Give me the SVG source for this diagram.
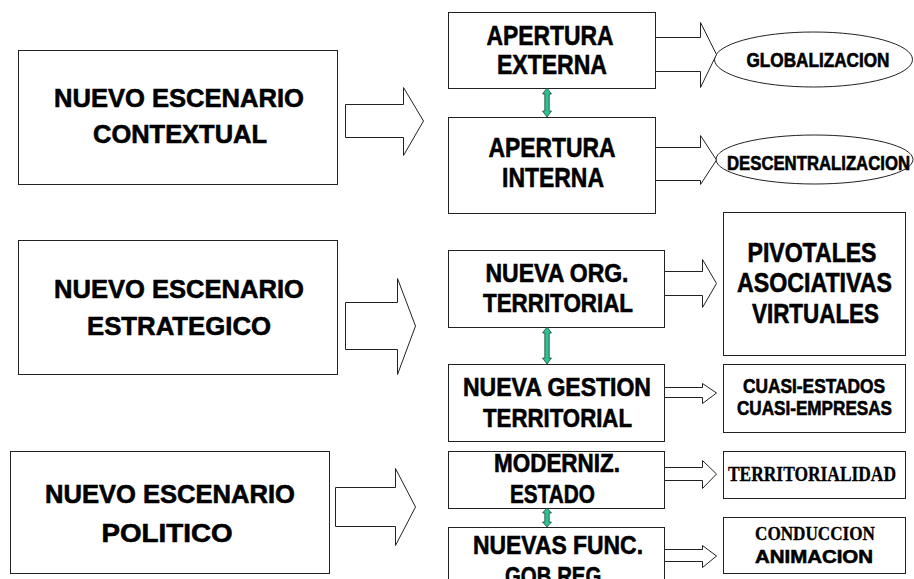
<svg xmlns="http://www.w3.org/2000/svg" width="914" height="579" viewBox="0 0 914 579">
<style>
.box{fill:#fff;stroke:#222;stroke-width:1}
.blk{fill:#fff;stroke:#222;stroke-width:1;stroke-linejoin:miter}
.dbl{fill:#2ec28f;stroke:#1a4a3a;stroke-width:0.8}
text{font-family:"Liberation Sans",Arial,sans-serif;font-weight:bold;fill:#000;stroke:#000;stroke-width:0.6;text-anchor:middle}
.serif{font-family:"Liberation Serif","Times New Roman",serif;stroke-width:0.3}
</style>
<rect width="914" height="579" fill="#fff"/>

<g id="contextual">
<rect class="box" x="18.5" y="50.5" width="319" height="134"/>
<text x="179" y="107" font-size="26.5" textLength="250" lengthAdjust="spacingAndGlyphs">NUEVO ESCENARIO</text>
<text x="180" y="143" font-size="26.5" textLength="174" lengthAdjust="spacingAndGlyphs">CONTEXTUAL</text>
</g>
<g id="estrategico">
<rect class="box" x="18.5" y="240.5" width="319" height="134"/>
<text x="179" y="298" font-size="26.5" textLength="250" lengthAdjust="spacingAndGlyphs">NUEVO ESCENARIO</text>
<text x="179" y="335" font-size="26.5" textLength="184" lengthAdjust="spacingAndGlyphs">ESTRATEGICO</text>
</g>
<g id="politico">
<rect class="box" x="10.5" y="451.5" width="319" height="122"/>
<text x="170" y="503" font-size="26.5" textLength="250" lengthAdjust="spacingAndGlyphs">NUEVO ESCENARIO</text>
<text x="167" y="542" font-size="26.5" textLength="131" lengthAdjust="spacingAndGlyphs">POLITICO</text>
</g>

<g id="apertura-externa">
<rect class="box" x="448.5" y="12.5" width="207" height="76"/>
<text x="550" y="45" font-size="28" textLength="127" lengthAdjust="spacingAndGlyphs">APERTURA</text>
<text x="552" y="74" font-size="28" textLength="110" lengthAdjust="spacingAndGlyphs">EXTERNA</text>
</g>
<g id="apertura-interna">
<rect class="box" x="448.5" y="117.5" width="207" height="96"/>
<text x="552" y="157" font-size="28" textLength="127" lengthAdjust="spacingAndGlyphs">APERTURA</text>
<text x="553" y="187" font-size="28" textLength="102" lengthAdjust="spacingAndGlyphs">INTERNA</text>
</g>
<g id="globalizacion">
<ellipse class="box" cx="813.5" cy="59.5" rx="99" ry="27.5"/>
<text x="818" y="67" font-size="19.5" textLength="143" lengthAdjust="spacingAndGlyphs">GLOBALIZACION</text>
</g>
<g id="descentralizacion">
<ellipse class="box" cx="814.5" cy="159.5" rx="98.5" ry="24.5"/>
<text x="818.5" y="170" font-size="19.5" textLength="183" lengthAdjust="spacingAndGlyphs">DESCENTRALIZACION</text>
</g>

<g id="nueva-org">
<rect class="box" x="448.5" y="250.5" width="216" height="77"/>
<text x="557" y="282" font-size="26.5" textLength="143" lengthAdjust="spacingAndGlyphs">NUEVA ORG.</text>
<text x="558" y="312" font-size="26.5" textLength="150" lengthAdjust="spacingAndGlyphs">TERRITORIAL</text>
</g>
<g id="nueva-gestion">
<rect class="box" x="448.5" y="364.5" width="216" height="77"/>
<text x="557" y="396" font-size="26" textLength="188" lengthAdjust="spacingAndGlyphs">NUEVA GESTION</text>
<text x="557.5" y="427" font-size="26" textLength="149" lengthAdjust="spacingAndGlyphs">TERRITORIAL</text>
</g>
<g id="pivotales">
<rect class="box" x="723.5" y="212.5" width="182" height="143"/>
<text x="812" y="262" font-size="27" textLength="129" lengthAdjust="spacingAndGlyphs">PIVOTALES</text>
<text x="814.5" y="292" font-size="27" textLength="155" lengthAdjust="spacingAndGlyphs">ASOCIATIVAS</text>
<text x="815.5" y="323" font-size="27" textLength="127" lengthAdjust="spacingAndGlyphs">VIRTUALES</text>
</g>
<g id="cuasi">
<rect class="box" x="723.5" y="364.5" width="182" height="68"/>
<text x="814" y="393" font-size="20" textLength="142" lengthAdjust="spacingAndGlyphs">CUASI-ESTADOS</text>
<text x="814.5" y="415" font-size="20" textLength="155" lengthAdjust="spacingAndGlyphs">CUASI-EMPRESAS</text>
</g>

<g id="moderniz">
<rect class="box" x="448.5" y="451.5" width="216" height="57"/>
<text x="557" y="472" font-size="26.5" textLength="126" lengthAdjust="spacingAndGlyphs">MODERNIZ.</text>
<text x="552.5" y="503" font-size="26.5" textLength="85" lengthAdjust="spacingAndGlyphs">ESTADO</text>
</g>
<g id="nuevas-func">
<rect class="box" x="448.5" y="527.5" width="216" height="60"/>
<text x="558" y="554" font-size="26.5" textLength="170" lengthAdjust="spacingAndGlyphs">NUEVAS FUNC.</text>
<text x="556" y="585" font-size="26.5" textLength="102" lengthAdjust="spacingAndGlyphs">GOB.REG.</text>
</g>
<g id="territorialidad">
<rect class="box" x="723.5" y="451.5" width="182" height="47"/>
<text class="serif" x="812" y="481" font-size="21" textLength="168" lengthAdjust="spacingAndGlyphs">TERRITORIALIDAD</text>
</g>
<g id="conduccion">
<rect class="box" x="723.5" y="517.5" width="182" height="56"/>
<text class="serif" x="815" y="540" font-size="19" textLength="120" lengthAdjust="spacingAndGlyphs">CONDUCCION</text>
<text x="814" y="563" font-size="19" textLength="118" lengthAdjust="spacingAndGlyphs">ANIMACION</text>
</g>

<g id="connectors">
<polygon class="blk" points="345.5,104.5 403.5,104.5 403.5,87.5 423.5,121 403.5,155.5 403.5,137.5 345.5,137.5"/>
<polygon class="blk" points="345.5,302.5 397.5,302.5 397.5,278.5 415.5,326 397.5,374.5 397.5,349.5 345.5,349.5"/>
<polygon class="blk" points="335.5,487.5 395.5,487.5 395.5,468.5 415.5,507 395.5,545.5 395.5,526.5 335.5,526.5"/>
<polygon class="blk" points="655.5,37.5 700.5,37.5 700.5,22.5 716.5,54.5 700.5,87.5 700.5,71.5 655.5,71.5"/>
<polygon class="blk" points="655.5,147.5 700.5,147.5 700.5,135.5 716.5,160 700.5,184.5 700.5,180.5 655.5,180.5"/>
<polygon class="blk" points="664.5,271.5 702.5,271.5 702.5,259.5 716.5,283.5 702.5,307.5 702.5,295.5 664.5,295.5"/>
<polygon class="blk" points="664.5,387.5 702.5,387.5 702.5,383.5 716.5,393 702.5,403.5 702.5,397.5 664.5,397.5"/>
<polygon class="blk" points="664.5,467.5 702.5,467.5 702.5,460.5 716.5,474 702.5,488.5 702.5,480.5 664.5,480.5"/>
<polygon class="blk" points="664.5,549.5 702.5,549.5 702.5,545.5 716.5,556 702.5,567.5 702.5,561.5 664.5,561.5"/>
<polygon class="dbl" points="547,88 551.5,94 549.2,94 549.2,111 551.5,111 547,117 542.5,111 544.8,111 544.8,94 542.5,94"/>
<polygon class="dbl" points="547,327 551.5,333 549.2,333 549.2,358 551.5,358 547,364 542.5,358 544.8,358 544.8,333 542.5,333"/>
<polygon class="dbl" points="547,508 551.5,513 549.2,513 549.2,522 551.5,522 547,527 542.5,522 544.8,522 544.8,513 542.5,513"/>
</g>
</svg>
